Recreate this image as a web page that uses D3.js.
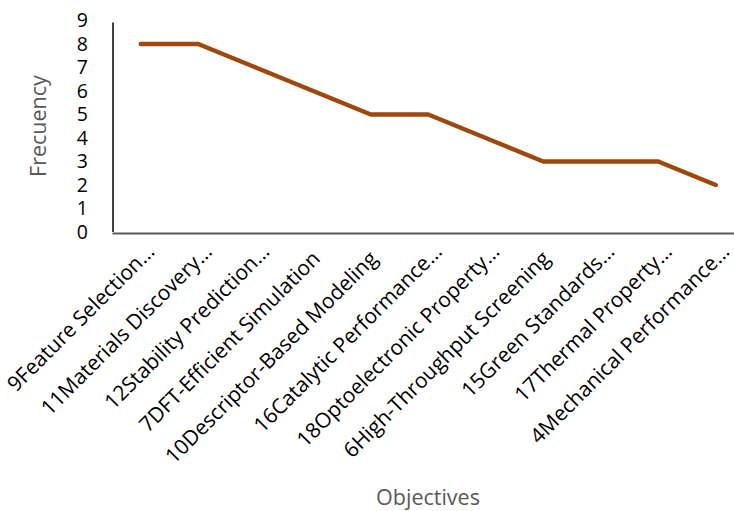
<!DOCTYPE html>
<html>
<head>
<meta charset="utf-8">
<script src="https://cdn.jsdelivr.net/npm/d3@7"></script>
<style>
  body { margin: 0; background: #fff; }
  text { font-family: "Open Sans", sans-serif; }
</style>
</head>
<body>
<svg width="734" height="511"></svg>
<script>
const categories = [
  "9Feature Selection…",
  "11Materials Discovery…",
  "12Stability Prediction…",
  "7DFT-Efficient Simulation",
  "10Descriptor-Based Modeling",
  "16Catalytic Performance…",
  "18Optoelectronic Property…",
  "6High-Throughput Screening",
  "15Green Standards…",
  "17Thermal Property…",
  "4Mechanical Performance…"
];
const values = [8, 8, 7, 6, 5, 5, 4, 3, 3, 3, 2];
const yTicks = [0, 1, 2, 3, 4, 5, 6, 7, 8, 9];

const margin = { top: 20.5, left: 112, bottom: 232 };
const bandW = 57.5;
const svg = d3.select("svg");

const x = d3.scaleBand().domain(categories).range([margin.left, margin.left + bandW * categories.length]);
const y = d3.scaleLinear().domain([0, 9]).range([margin.bottom, margin.top]);

// y axis
const yAxis = svg.append("g").attr("transform", `translate(${margin.left + 1},0)`)
  .call(d3.axisLeft(y).tickValues(yTicks).tickSize(0).tickPadding(25));
yAxis.select(".domain").attr("stroke", "#000").attr("stroke-width", 1.5).attr("d", `M0,${y(9) + 2}V${y(0)}`);
yAxis.selectAll("text").attr("font-size", 19.5).attr("fill", "#000").attr("font-family", "'Open Sans', sans-serif");

// x axis
const xAxis = svg.append("g").attr("transform", `translate(0,${margin.bottom + 1})`)
  .call(d3.axisBottom(x).tickSize(0).tickPadding(0));
xAxis.select(".domain").attr("stroke", "#595959").attr("stroke-width", 2);
xAxis.selectAll("text")
  .attr("font-size", 21)
  .attr("fill", "#000")
  .attr("font-family", "'Open Sans', sans-serif")
  .attr("text-anchor", "end")
  .attr("dy", 0)
  // truncated labels sit a bit further up-right than full ones
  .attr("transform", d => d.endsWith("…") ? "translate(15,20) rotate(-45)" : "translate(8,27) rotate(-45)");

// line
const line = d3.line().x((d, i) => x(categories[i]) + x.bandwidth() / 2).y(d => y(d));
svg.append("path").datum(values)
  .attr("d", line)
  .attr("fill", "none")
  .attr("stroke", "#9E480E")
  .attr("stroke-width", 4.5)
  .attr("stroke-linecap", "round")
  .attr("stroke-linejoin", "round");

// titles
svg.append("text").attr("transform", "translate(46,126) rotate(-90)")
  .attr("text-anchor", "middle").attr("font-size", 21.5).attr("fill", "#595959").text("Frecuency");
svg.append("text").attr("x", 428).attr("y", 505)
  .attr("text-anchor", "middle").attr("font-size", 21.5).attr("fill", "#595959").text("Objectives");
</script>
</body>
</html>
